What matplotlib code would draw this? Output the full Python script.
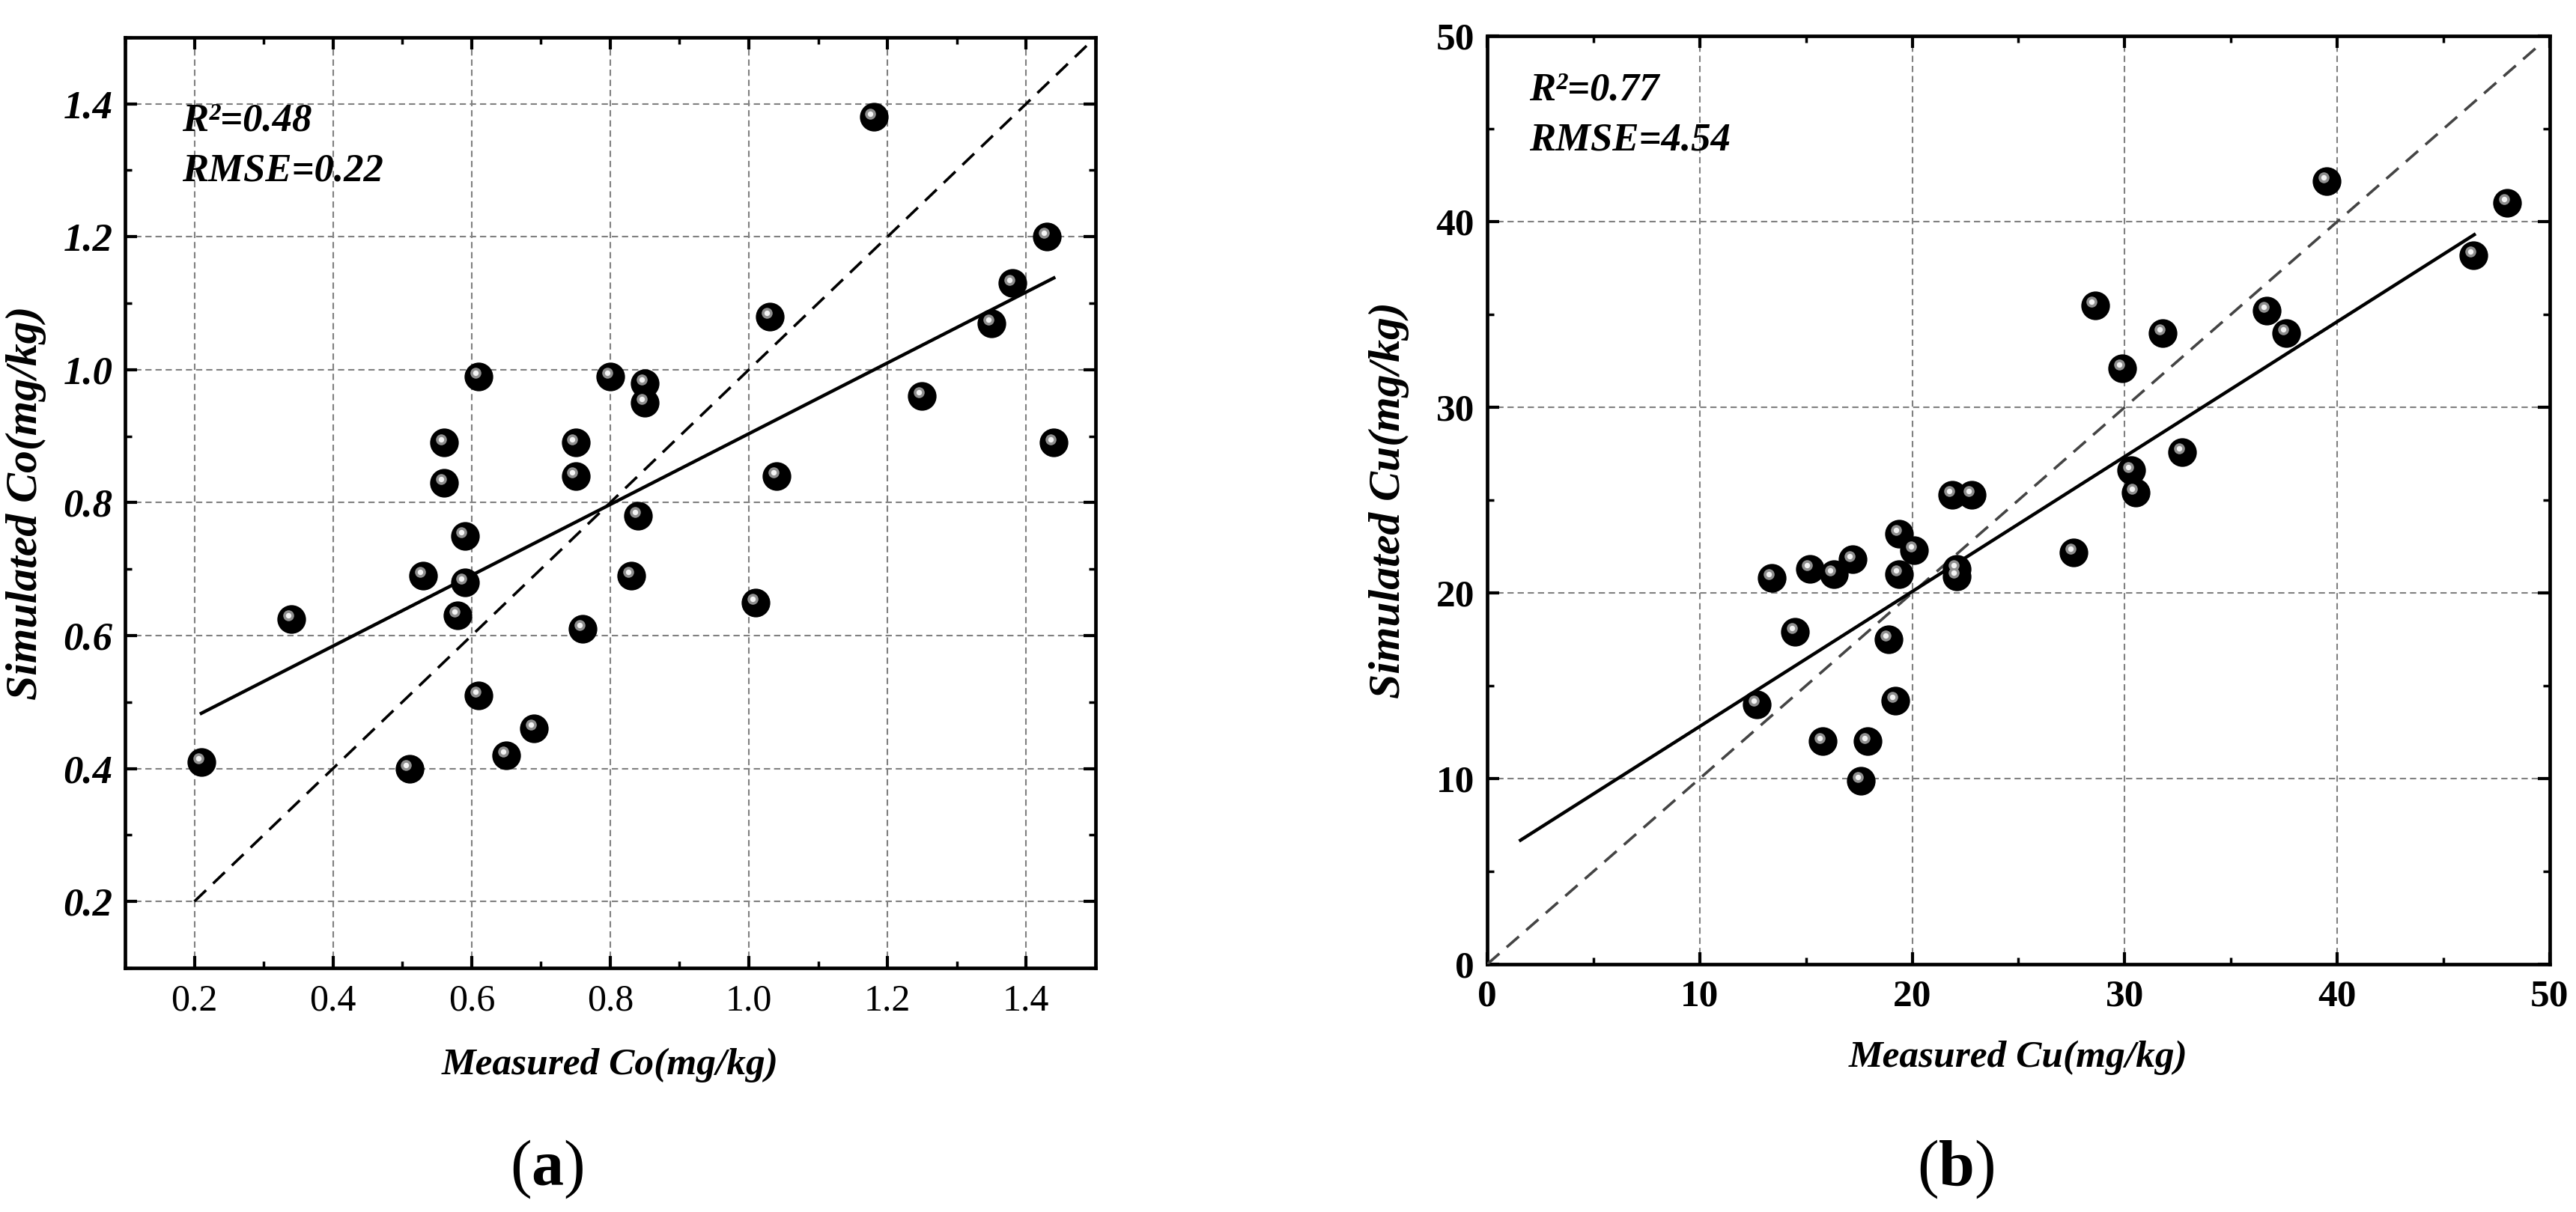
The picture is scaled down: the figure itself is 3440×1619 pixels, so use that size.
import matplotlib.pyplot as plt
import matplotlib.transforms as mtransforms
import numpy as np
from matplotlib.ticker import MultipleLocator, FormatStrFormatter

plt.rcParams['font.family'] = ['Liberation Serif', 'DejaVu Serif']
plt.rcParams['mathtext.fontset'] = 'custom'
plt.rcParams['mathtext.rm'] = 'Liberation Serif'
plt.rcParams['mathtext.bf'] = 'Liberation Serif:bold'

# (a) Co
co_measured = [0.21, 0.34, 0.51, 0.53, 0.56, 0.56, 0.59, 0.59, 0.58, 0.61,
               0.61, 0.65, 0.69, 0.75, 0.75, 0.76, 0.80, 0.85, 0.85, 0.84,
               0.83, 1.01, 1.03, 1.04, 1.18, 1.25, 1.35, 1.38, 1.43, 1.44]
co_simulated = [0.41, 0.625, 0.40, 0.69, 0.89, 0.83, 0.75, 0.68, 0.63, 0.99,
                0.51, 0.42, 0.46, 0.89, 0.84, 0.61, 0.99, 0.98, 0.95, 0.78,
                0.69, 0.65, 1.08, 0.84, 1.38, 0.96, 1.07, 1.13, 1.20, 0.89]
co_fit = (0.5325, 0.3712)          # slope, intercept
co_fit_range = (0.21, 1.44)
co_diag = (0.2, 1.49)
co_stats = ('0.48', '0.22')

# (b) Cu
cu_measured = [12.7, 13.4, 14.5, 15.2, 15.8, 16.3, 17.2, 17.6, 17.9, 18.9,
               19.2, 19.4, 19.4, 20.1, 21.9, 22.8, 22.1, 22.1, 27.6, 28.6,
               29.9, 30.3, 30.5, 31.8, 32.7, 36.7, 37.6, 39.5, 46.4, 48.0]
cu_simulated = [14.0, 20.8, 17.9, 21.3, 12.0, 21.0, 21.8, 9.9, 12.0, 17.5,
                14.2, 23.2, 21.0, 22.3, 25.3, 25.3, 21.3, 20.9, 22.2, 35.5,
                32.1, 26.6, 25.4, 34.0, 27.6, 35.2, 34.0, 42.2, 38.2, 41.0]
cu_fit = (0.7268, 5.54)
cu_fit_range = (1.57, 46.45)
cu_diag = (0.0, 49.6)
cu_stats = ('0.77', '4.54')

fig = plt.figure(figsize=(34.4, 16.19), dpi=100)
ax_a = fig.add_axes([0.04855, 0.2014, 0.3767, 0.7678])
ax_b = fig.add_axes([0.5773, 0.2044, 0.4125, 0.7659])

lab_font = dict(fontweight='bold', fontstyle='italic')


def spheres(ax, x, y):
    ax.scatter(x, y, s=760, color='black', zorder=5, linewidths=0)
    hl = mtransforms.offset_copy(ax.transData, fig=fig, x=-3, y=3.5, units='points')
    ax.scatter(x, y, s=110, color='#8f8f8f', zorder=6, linewidths=0, transform=hl)
    ax.scatter(x, y, s=28, color='#f4f4f4', zorder=7, linewidths=0, transform=hl)


def style(ax, lims, major, minor, fmt, tick_font_x, tick_font_y):
    ax.set_xlim(lims)
    ax.set_ylim(lims)
    ax.xaxis.set_major_locator(MultipleLocator(major))
    ax.yaxis.set_major_locator(MultipleLocator(major))
    ax.xaxis.set_minor_locator(MultipleLocator(minor))
    ax.yaxis.set_minor_locator(MultipleLocator(minor))
    ax.xaxis.set_major_formatter(FormatStrFormatter(fmt))
    ax.yaxis.set_major_formatter(FormatStrFormatter(fmt))
    ax.tick_params(which='both', direction='in', top=True, right=True)
    ax.tick_params(which='major', length=11.5, width=3)
    ax.tick_params(which='minor', length=6.5, width=2.5)
    ax.tick_params(axis='x', pad=15)
    ax.tick_params(axis='y', pad=12)
    for lab in ax.get_xticklabels():
        lab.set(**tick_font_x)
    for lab in ax.get_yticklabels():
        lab.set(**tick_font_y)
    for sp in ax.spines.values():
        sp.set_linewidth(3.4)
    ax.grid(True, which='major', color='#808080', linestyle=(0, (4, 2.5)), linewidth=1.5)
    ax.set_axisbelow(True)


# panel a
x = np.array(co_fit_range)
ax_a.plot(co_diag, co_diag, color='black', linestyle=(0, (6, 3.6)), linewidth=2.6, zorder=3)
ax_a.plot(x, co_fit[0] * x + co_fit[1], color='black', linewidth=3.2, zorder=4)
spheres(ax_a, co_measured, co_simulated)
ax_a.set_xticks(np.arange(0.2, 1.41, 0.2))
ax_a.set_yticks(np.arange(0.2, 1.41, 0.2))
style(ax_a, (0.1, 1.5), 0.2, 0.1, '%.1f',
      dict(fontsize=36),
      dict(fontsize=38, **lab_font))
ax_a.set_xticks(np.arange(0.2, 1.41, 0.2))
ax_a.set_yticks(np.arange(0.2, 1.41, 0.2))
for lab in ax_a.get_xticklabels():
    lab.set(fontsize=36)
for lab in ax_a.get_yticklabels():
    lab.set(fontsize=38, **lab_font)
ax_a.set_xlabel('Measured Co(mg/kg)', fontsize=37, **lab_font)
ax_a.set_ylabel('Simulated Co(mg/kg)', fontsize=43, **lab_font)
ax_a.xaxis.set_label_coords(0.5, -0.086)
ax_a.yaxis.set_label_coords(-0.081, 0.5)
ax_a.text(0.0586, 0.900, 'R²=' + co_stats[0], transform=ax_a.transAxes,
          fontsize=38, va='baseline', **lab_font)
ax_a.text(0.0586, 0.8455, 'RMSE=' + co_stats[1], transform=ax_a.transAxes,
          fontsize=38, va='baseline', **lab_font)

# panel b
x = np.array(cu_fit_range)
ax_b.plot(cu_diag, cu_diag, color='#444444', linestyle=(0, (6, 3.6)), linewidth=2.6, zorder=3)
ax_b.plot(x, cu_fit[0] * x + cu_fit[1], color='black', linewidth=3.2, zorder=4)
spheres(ax_b, cu_measured, cu_simulated)
style(ax_b, (0, 50), 10, 5, '%d',
      dict(fontsize=37, fontweight='bold'),
      dict(fontsize=37, fontweight='bold'))
ax_b.set_xlabel('Measured Cu(mg/kg)', fontsize=37, **lab_font)
ax_b.set_ylabel('Simulated Cu(mg/kg)', fontsize=43, **lab_font)
ax_b.xaxis.set_label_coords(0.5, -0.082)
ax_b.yaxis.set_label_coords(-0.073, 0.5)
ax_b.text(0.0395, 0.931, 'R²=' + cu_stats[0], transform=ax_b.transAxes,
          fontsize=38, va='baseline', **lab_font)
ax_b.text(0.0395, 0.877, 'RMSE=' + cu_stats[1], transform=ax_b.transAxes,
          fontsize=38, va='baseline', **lab_font)

fig.text(730 / 3440, 1 - 1583 / 1619, r'$(\mathbf{a})$', ha='center', va='baseline', fontsize=62)
fig.text(2612 / 3440, 1 - 1583 / 1619, r'$(\mathbf{b})$', ha='center', va='baseline', fontsize=62)

fig.savefig('out.png', dpi=100)
